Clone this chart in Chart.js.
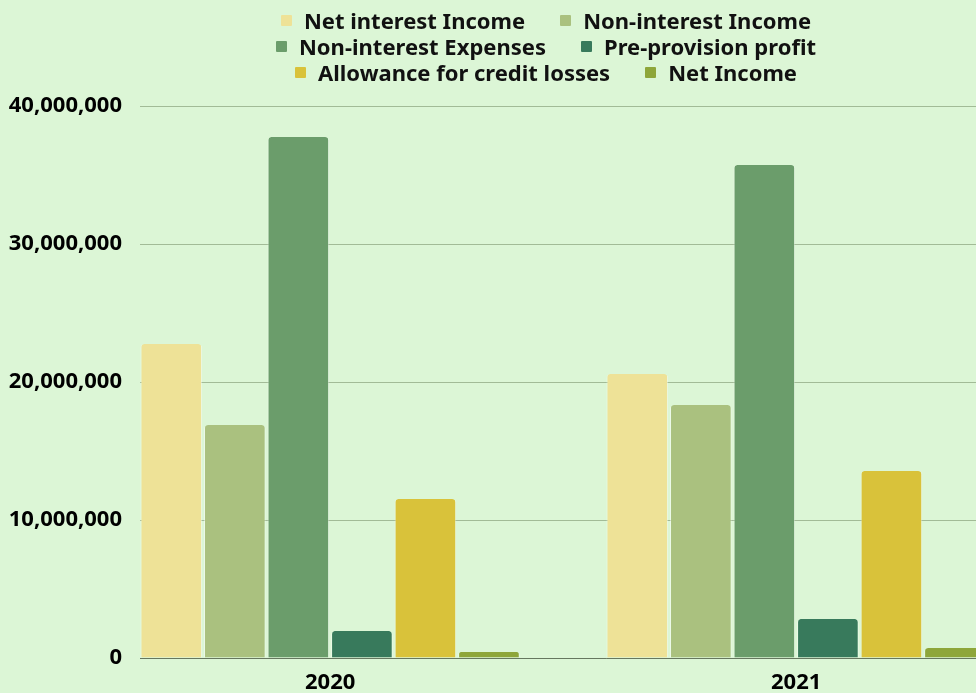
<!DOCTYPE html>
<html>
<head>
<meta charset="utf-8">
<script src="https://cdn.jsdelivr.net/npm/chart.js@4"></script>
<style>
  html, body { margin: 0; padding: 0; background: #dcf6d6; overflow: hidden; }
  body { width: 976px; height: 693px; position: relative; font-family: 'Noto Sans', sans-serif; }
  #wrap { position: absolute; left: 0; top: 0; width: 1092px; height: 693px; }
  #legend { position: absolute; left: 246px; top: 7px; width: 600px; display: flex; flex-wrap: wrap; justify-content: center; }
  .item { display: flex; align-items: center; margin: 0 17.5px; height: 26px; font-weight: bold; font-size: 22px; color: #111; white-space: nowrap; }
  .box { width: 11px; height: 11px; margin-right: 12px; border-radius: 1px; }
</style>
</head>
<body>
<div id="wrap"><canvas id="chart"></canvas></div>
<div id="legend"></div>
<script>
const years = ['2020', '2021'];
const seriesNames = ['Net interest Income', 'Non-interest Income', 'Non-interest Expenses', 'Pre-provision profit', 'Allowance for credit losses', 'Net Income'];
const netInterestIncome = [22750000, 20580000];
const nonInterestIncome = [16880000, 18330000];
const nonInterestExpenses = [37750000, 35720000];
const preProvisionProfit = [1960000, 2830000];
const allowanceCreditLosses = [11520000, 13550000];
const netIncome = [430000, 720000];
const yTicks = [0, 10000000, 20000000, 30000000, 40000000];

const colors = ['#eee297', '#aac17f', '#6b9d6b', '#387a5c', '#d9c23a', '#8ea63a'];
const series = [netInterestIncome, nonInterestIncome, nonInterestExpenses, preProvisionProfit, allowanceCreditLosses, netIncome];

const font = { family: "'Noto Sans', sans-serif", size: 22, weight: 'bold' };

const chart = new Chart(document.getElementById('chart'), {
    type: 'bar',
    data: {
        datasets: series.map((vals, k) => ({
            label: seriesNames[k],
            data: vals.map((v, i) => ({ x: i, y: v })),
            backgroundColor: colors[k],
            borderColor: 'rgba(255,255,255,0.45)',
            borderWidth: { left: 1, right: 1, top: 0, bottom: 0 },
            borderRadius: 4,
            categoryPercentage: 0.818,
            barPercentage: 0.97
        }))
    },
    options: {
        responsive: true,
        maintainAspectRatio: false,
        animation: false,
        layout: { padding: { top: 106, right: 20, left: 0, bottom: 0 } },
        scales: {
            x: {
                type: 'linear',
                offset: false,
                bounds: 'data',
                min: -0.408,
                max: 1.592,
                afterBuildTicks: s => { s.ticks = years.map((_, i) => ({ value: i })); },
                afterFit: s => { s.height = 35; },
                grid: { display: false, drawTicks: false, offset: false },
                border: { display: true, color: '#66775f', width: 1 },
                ticks: { color: '#000', font: font, padding: 12, callback: v => years[v] }
            },
            y: {
                min: 0,
                max: 40000000,
                afterBuildTicks: s => { s.ticks = yTicks.map(v => ({ value: v })); },
                afterFit: s => { s.width = 140; },
                grid: { color: '#a2bb97', lineWidth: 1, drawTicks: false },
                border: { display: false },
                ticks: { color: '#000', font: font, padding: 18, callback: v => v.toLocaleString('en-US') }
            }
        },
        plugins: {
            legend: { display: false },
            tooltip: { enabled: false }
        }
    }
});

// legenda em HTML, a partir dos datasets
const leg = document.getElementById('legend');
chart.data.datasets.forEach(ds => {
    const it = document.createElement('div');
    it.className = 'item';
    const b = document.createElement('span');
    b.className = 'box';
    b.style.background = ds.backgroundColor;
    it.appendChild(b);
    it.appendChild(document.createTextNode(ds.label));
    leg.appendChild(it);
});
</script>
</body>
</html>
